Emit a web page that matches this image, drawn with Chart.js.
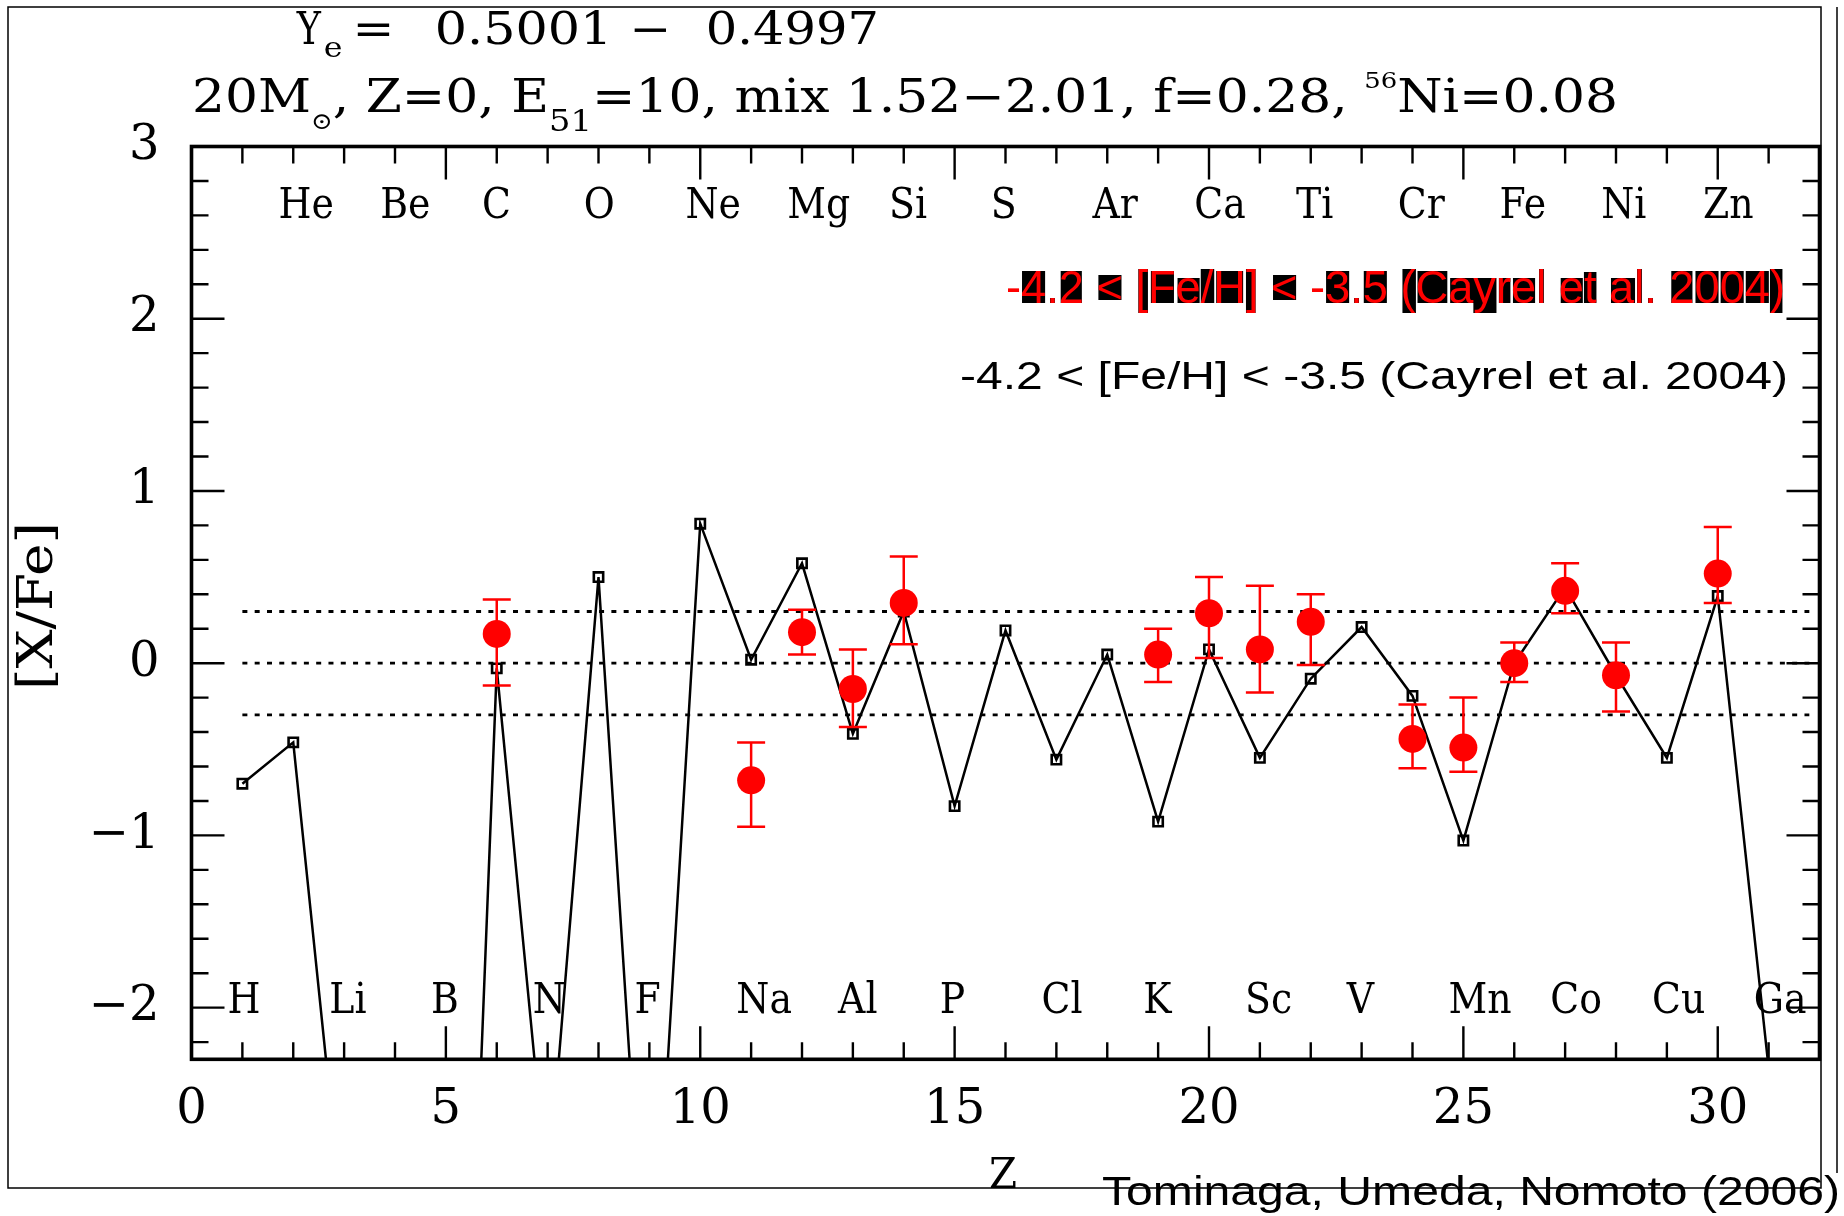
<!DOCTYPE html>
<html>
<head>
<meta charset="utf-8">
<title>[X/Fe] vs Z</title>
<script src="https://cdn.jsdelivr.net/npm/chart.js@4.4.1/dist/chart.umd.min.js"></script>
<style>
  html, body { margin: 0; padding: 0; background: #fff; }
  canvas { display: block; }
</style>
</head>
<body>
<canvas id="chart" width="1844" height="1216"></canvas>
<script>
// Model yields: [X/Fe] for Z = 1 .. 31 (values below -2.3 run off the bottom of the frame)
const modelZ = [1, 2, 3, 4, 5, 6, 7, 8, 9, 10, 11, 12, 13, 14, 15, 16, 17, 18, 19, 20, 21, 22, 23, 24, 25, 26, 27, 28, 29, 30, 31];
const modelXFe = [-0.70, -0.46, -3.32, -6.0, -7.5, -0.03, -3.09, 0.50, -4.08, 0.81, 0.02, 0.58, -0.41, 0.30, -0.83, 0.19, -0.56, 0.05, -0.92, 0.08, -0.55, -0.09, 0.21, -0.19, -1.03, 0.00, 0.44, -0.07, -0.55, 0.39, -2.35];

// Cayrel et al. (2004) abundances, -4.2 < [Fe/H] < -3.5
const obsZ = [6, 11, 12, 13, 14, 19, 20, 21, 22, 24, 25, 26, 27, 28, 30];
const obsXFe = [0.17, -0.68, 0.18, -0.15, 0.35, 0.05, 0.29, 0.08, 0.24, -0.44, -0.49, 0.00, 0.42, -0.07, 0.52];
const obsUpper = [0.37, -0.46, 0.31, 0.08, 0.62, 0.20, 0.50, 0.45, 0.40, -0.24, -0.20, 0.12, 0.58, 0.12, 0.79];
const obsLower = [-0.13, -0.95, 0.05, -0.37, 0.11, -0.11, 0.03, -0.17, -0.01, -0.61, -0.63, -0.11, 0.29, -0.28, 0.35];

// Element names: even Z along the top, odd Z along the bottom
const upperSymbols = ['He', 'Be', 'C', 'O', 'Ne', 'Mg', 'Si', 'S', 'Ar', 'Ca', 'Ti', 'Cr', 'Fe', 'Ni', 'Zn'];
const upperZ = [2, 4, 6, 8, 10, 12, 14, 16, 18, 20, 22, 24, 26, 28, 30];
const lowerSymbols = ['H', 'Li', 'B', 'N', 'F', 'Na', 'Al', 'P', 'Cl', 'K', 'Sc', 'V', 'Mn', 'Co', 'Cu', 'Ga'];
const lowerZ = [1, 3, 5, 7, 9, 11, 13, 15, 17, 19, 21, 23, 25, 27, 29, 31];

// Reference levels (dotted) and their extent in Z
const refLevels = [0.3, 0, -0.3];
const refFromZ = 1;
const refToZ = 31.8;

// Axes
const xTickValues = [0, 5, 10, 15, 20, 25, 30];
const yTickValues = [-2, -1, 0, 1, 2, 3];
const xRange = [0, 32];
const yRange = [-2.3, 3];

const SERIF = '"DejaVu Serif", "DejaVu Sans", serif';
const SANS = '"Liberation Sans", Arial, sans-serif';

// ---------- text helpers ----------
// a sequence of runs (sub/superscripts via dy) squeezed or stretched to a given width
function runLine(ctx, runs, left, baseline, width, family, color) {
  let natural = 0;
  runs.forEach(r => {
    ctx.font = r.size + 'px ' + family;
    r.w = ctx.measureText(r.text).width;
    natural += r.w;
  });
  const k = width / natural;
  ctx.save();
  ctx.translate(left, baseline);
  ctx.scale(k, 1);
  ctx.fillStyle = color;
  ctx.textAlign = 'left';
  ctx.textBaseline = 'alphabetic';
  let x = 0;
  runs.forEach(r => {
    ctx.font = r.size + 'px ' + family;
    ctx.fillText(r.text, x, r.dy || 0);
    x += r.w;
  });
  ctx.restore();
}

// one piece of text whose ink starts at inkLeft and spans inkWidth
function placeText(ctx, text, inkLeft, baseline, size, inkWidth, family) {
  ctx.save();
  ctx.font = size + 'px ' + family;
  ctx.textAlign = 'left';
  ctx.textBaseline = 'alphabetic';
  const m = ctx.measureText(text);
  const ink = m.actualBoundingBoxLeft + m.actualBoundingBoxRight;
  ctx.translate(inkLeft, baseline);
  ctx.scale(inkWidth / ink, 1);
  ctx.fillStyle = '#000';
  ctx.fillText(text, m.actualBoundingBoxLeft, 0);
  ctx.restore();
}

function boxedText(ctx, str, left, baseline, size, width) {
  ctx.save();
  ctx.font = size + 'px ' + SANS;
  const k = width / ctx.measureText(str).width;
  ctx.translate(left, baseline);
  ctx.scale(k, 1);
  ctx.textAlign = 'left';
  ctx.textBaseline = 'alphabetic';
  let x = 0;
  ctx.fillStyle = '#000';
  for (const ch of str) {
    const m = ctx.measureText(ch);
    if (ch !== ' ' && ch !== '-') {
      ctx.fillRect(x - m.actualBoundingBoxLeft, -m.actualBoundingBoxAscent,
        m.actualBoundingBoxLeft + m.actualBoundingBoxRight,
        m.actualBoundingBoxAscent + m.actualBoundingBoxDescent);
    }
    x += m.width;
  }
  ctx.fillStyle = '#ff0000';
  ctx.fillText(str, 0, 0);
  ctx.restore();
}

// ---------- plugins ----------
const errorBars = {
  id: 'errorBars',
  beforeDatasetDraw(chart, args) {
    const ds = chart.data.datasets[args.index];
    if (!ds.errorHigh) return;
    const { ctx, scales: { x, y } } = chart;
    const cap = 14;
    ctx.save();
    ctx.strokeStyle = ds.borderColor;
    ctx.lineWidth = 2.5;
    ds.data.forEach((p, i) => {
      const px = x.getPixelForValue(p.x);
      const yt = y.getPixelForValue(ds.errorHigh[i]);
      const yb = y.getPixelForValue(ds.errorLow[i]);
      ctx.beginPath();
      ctx.moveTo(px, yt); ctx.lineTo(px, yb);
      ctx.moveTo(px - cap, yt); ctx.lineTo(px + cap, yt);
      ctx.moveTo(px - cap, yb); ctx.lineTo(px + cap, yb);
      ctx.stroke();
    });
    ctx.restore();
  }
};

const axesBox = {
  id: 'axesBox',
  afterDatasetsDraw(chart) {
    const { ctx, chartArea: a, scales: { x, y } } = chart;
    ctx.save();
    ctx.strokeStyle = '#000';
    ctx.lineWidth = 2.4;
    ctx.beginPath();
    for (let v = xRange[0]; v <= xRange[1]; v += 1) {
      const len = v % 5 === 0 ? 33 : 17;
      const px = x.getPixelForValue(v);
      ctx.moveTo(px, a.bottom); ctx.lineTo(px, a.bottom - len);
      ctx.moveTo(px, a.top); ctx.lineTo(px, a.top + len);
    }
    for (let k = -11; k <= 15; k++) {
      const len = k % 5 === 0 ? 33 : 17;
      const py = y.getPixelForValue(k * 0.2);
      ctx.moveTo(a.left, py); ctx.lineTo(a.left + len, py);
      ctx.moveTo(a.right, py); ctx.lineTo(a.right - len, py);
    }
    ctx.stroke();
    ctx.lineWidth = 3.6;
    ctx.strokeRect(a.left, a.top, a.right - a.left, a.bottom - a.top);
    ctx.restore();
  }
};

const annotations = {
  id: 'annotations',
  afterDraw(chart) {
    const { ctx, scales: { x, y } } = chart;
    ctx.save();

    // element names
    ctx.fillStyle = '#000';
    ctx.textAlign = 'left';
    ctx.textBaseline = 'alphabetic';
    ctx.font = '42px ' + SERIF;
    const drawSym = (s, z, yv) => {
      ctx.save();
      ctx.translate(x.getPixelForValue(z - 0.29), y.getPixelForValue(yv));
      ctx.scale(0.9, 1);
      ctx.fillText(s, 0, 0);
      ctx.restore();
    };
    upperSymbols.forEach((s, i) => drawSym(s, upperZ[i], 2.585));
    lowerSymbols.forEach((s, i) => drawSym(s, lowerZ[i], -2.03));

    // header line 1: Y_e = 0.5001 - 0.4997
    placeText(ctx, 'Y', 296, 44, 45, 26, SERIF);
    placeText(ctx, 'e', 325, 57, 28, 17, SERIF);
    placeText(ctx, '=', 357, 44, 44, 33, SERIF);
    placeText(ctx, '0.5001', 437, 44, 45, 169, SERIF);
    placeText(ctx, '\u2212', 634, 44, 44, 33, SERIF);
    placeText(ctx, '0.4997', 708, 44, 45, 168, SERIF);

    // header line 2: model parameters
    runLine(ctx, [
      { text: '20M', size: 46 },
      { text: '\u2299', size: 23, dy: 17 },
      { text: ', Z=0, E', size: 46 },
      { text: '51', size: 30, dy: 19 },
      { text: '=10, mix 1.52\u22122.01, f=0.28, ', size: 46 },
      { text: '56', size: 23, dy: -24 },
      { text: 'Ni=0.08', size: 46 }
    ], 192, 112, 1426, SERIF, '#000');

    // legend-style captions
    boxedText(ctx, '-4.2 < [Fe/H] < -3.5 (Cayrel et al. 2004)', 1006, 303, 47, 779);
    runLine(ctx, [{ text: '-4.2 < [Fe/H] < -3.5 (Cayrel et al. 2004)', size: 38 }],
      960, 389, 828, SANS, '#000');

    // axis titles
    ctx.save();
    ctx.translate(52, 690);
    ctx.rotate(-Math.PI / 2);
    runLine(ctx, [{ text: '[X/Fe]', size: 48 }], 0, 0, 168, SERIF, '#000');
    ctx.restore();
    runLine(ctx, [{ text: 'Z', size: 42 }], 989, 1188, 28, SERIF, '#000');

    // credit
    runLine(ctx, [{ text: 'Tominaga, Umeda, Nomoto (2006)', size: 40 }],
      1102, 1205, 738, SANS, '#000');

    // outer frame
    ctx.strokeStyle = '#000';
    ctx.lineWidth = 1.5;
    ctx.strokeRect(8, 7, 1821 - 8, 1188 - 7);
    ctx.beginPath();
    ctx.moveTo(1837, 7); ctx.lineTo(1837, 1173);
    ctx.stroke();
    ctx.restore();
  }
};

// ---------- datasets ----------
const modelPoints = modelZ.map((z, i) => ({ x: z, y: modelXFe[i] }));
const obsPoints = obsZ.map((z, i) => ({ x: z, y: obsXFe[i] }));
const refSets = refLevels.map(l => ({
  data: [{ x: refFromZ, y: l }, { x: refToZ, y: l }],
  borderColor: '#000',
  borderWidth: 2.8,
  borderDash: [5, 7.3],
  borderCapStyle: 'butt',
  pointRadius: 0,
  order: 2
}));

new Chart(document.getElementById('chart').getContext('2d'), {
  type: 'line',
  data: {
    datasets: [
      {
        label: 'Cayrel et al. 2004',
        data: obsPoints,
        showLine: false,
        borderColor: '#ff0000',
        pointBackgroundColor: '#ff0000',
        pointBorderWidth: 0,
        pointRadius: 14,
        errorHigh: obsUpper,
        errorLow: obsLower,
        order: 0
      },
      {
        label: 'model',
        data: modelPoints,
        borderColor: '#000',
        borderWidth: 2.5,
        tension: 0,
        pointStyle: 'rect',
        pointRadius: 6.6,
        pointBorderWidth: 2.6,
        pointBorderColor: '#000',
        pointBackgroundColor: 'rgba(0,0,0,0)',
        order: 1
      },
      ...refSets
    ]
  },
  options: {
    responsive: false,
    animation: false,
    devicePixelRatio: 1,
    layout: { padding: { left: 0, top: 146.5, right: 24.5, bottom: 0 } },
    plugins: { legend: { display: false }, tooltip: { enabled: false } },
    scales: {
      x: {
        type: 'linear',
        min: xRange[0],
        max: xRange[1],
        afterFit(s) { s.height = 156.7; },
        afterBuildTicks(s) { s.ticks = xTickValues.map(v => ({ value: v })); },
        grid: { display: false, drawTicks: false },
        border: { display: false },
        ticks: {
          color: '#000',
          font: { family: SERIF, size: 48 },
          padding: 22,
          maxRotation: 0,
          autoSkip: false
        }
      },
      y: {
        type: 'linear',
        min: yRange[0],
        max: yRange[1],
        afterFit(s) { s.width = 191.5; },
        afterBuildTicks(s) { s.ticks = yTickValues.map(v => ({ value: v })); },
        grid: { display: false, drawTicks: false },
        border: { display: false },
        ticks: {
          color: '#000',
          font: { family: SERIF, size: 48 },
          padding: 32,
          autoSkip: false,
          callback: v => (v < 0 ? '\u2212' + Math.abs(v) : String(v))
        }
      }
    }
  },
  plugins: [errorBars, axesBox, annotations]
});
</script>
</body>
</html>
